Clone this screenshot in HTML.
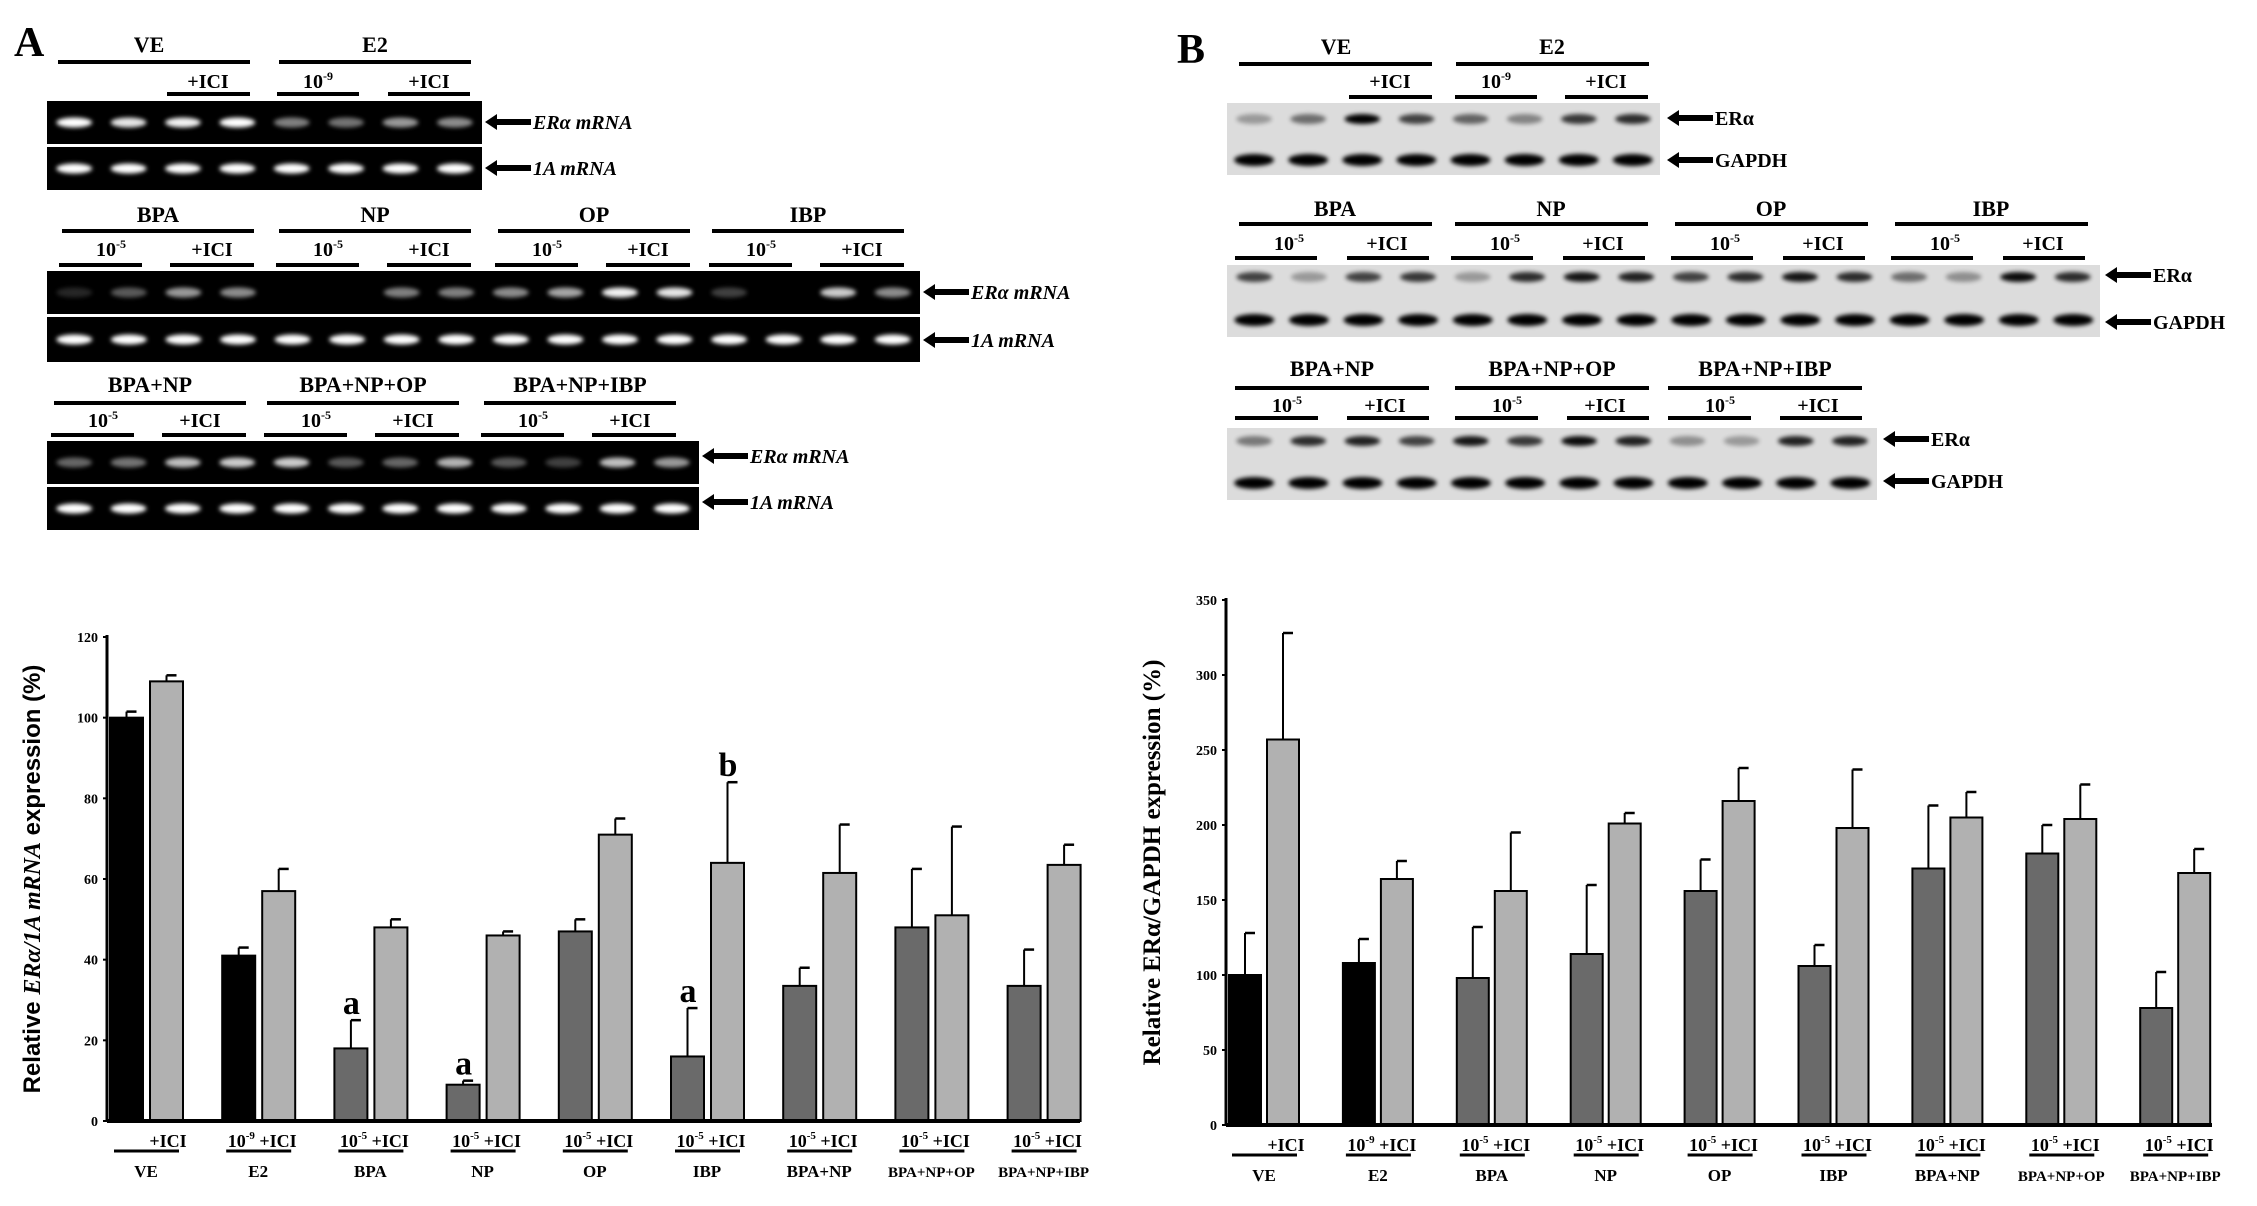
<!DOCTYPE html>
<html><head><meta charset="utf-8"><style>
html,body{margin:0;padding:0;background:#fff;}
svg{display:block;}
text{font-family:"Liberation Serif",serif;font-weight:bold;fill:#000;}
</style></head><body>
<svg id="fig" width="2257" height="1206" viewBox="0 0 2257 1206" xmlns="http://www.w3.org/2000/svg">
<defs><filter id="blur" x="-20%" y="-50%" width="140%" height="200%"><feGaussianBlur stdDeviation="2"/></filter></defs>
<g id="panels"></g>
<g id="chartA"></g>
<g id="chartB"></g>
</svg>
<script>
// ---------- chart data ----------
const groups = ["VE","E2","BPA","NP","OP","IBP","BPA+NP","BPA+NP+OP","BPA+NP+IBP"];
const doseLabels = ["","10","10","10","10","10","10","10","10"];
const doseExp = ["","-9","-5","-5","-5","-5","-5","-5","-5"];
const aDark = [100,41,18,9,47,16,33.5,48,33.5];
const aDarkErr = [1.5,2,7,1,3,12,4.5,14.5,9];
const aLight = [109,57,48,46,71,64,61.5,51,63.5];
const aLightErr = [1.5,5.5,2,1,4,20,12,22,5];
const aTicks = [0,20,40,60,80,100,120];
const bDark = [100,108,98,114,156,106,171,181,78];
const bDarkErr = [28,16,34,46,21,14,42,19,24];
const bLight = [257,164,156,201,216,198,205,204,168];
const bLightErr = [71,12,39,7,22,39,17,23,16];
const bTicks = [0,50,100,150,200,250,300,350];
const aLetters = [{g:2,s:0,t:"a"},{g:3,s:0,t:"a"},{g:5,s:0,t:"a"},{g:5,s:1,t:"b"}];

const NS="http://www.w3.org/2000/svg";
function el(tag,attrs,parent,txt){const e=document.createElementNS(NS,tag);for(const k in attrs)e.setAttribute(k,attrs[k]);if(txt!==undefined)e.textContent=txt;parent.appendChild(e);return e;}

function drawChart(g,o){
  const y=v=>o.y0-(v/o.max)*(o.y0-o.yTop);
  for(let i=0;i<groups.length;i++){
    const x0=o.x0+o.pitch*i;
    const dark=(i<2)?"#000":"#6a6a6a";
    const vals=[[o.dark[i],o.darkErr[i],dark,x0],[o.light[i],o.lightErr[i],"#b1b1b1",x0+o.off]];
    vals.forEach((v,s)=>{
      const top=y(v[0]);
      const et=y(v[0]+v[1]);
      const ln=el("line",{x1:v[3]+o.bw/2,x2:v[3]+o.bw/2,y1:top,y2:et,stroke:"#000","stroke-width":2},g);
      
      
      const cap=el("line",{x1:v[3]+o.bw/2,x2:v[3]+o.bw/2+10,y1:et,y2:et,stroke:"#000","stroke-width":2.5},g);
      
      
      const r=el("rect",{x:v[3],y:top,width:o.bw,height:o.y0-top,fill:v[2],stroke:"#000","stroke-width":2},g);
      
      
    });
    const cx=x0+o.bw+3;
    const t=el("text",{x:cx+4,y:o.y0+26,"font-size":18,"text-anchor":"middle"},g);
    
    
    if(doseLabels[i]){el("tspan",{},t,doseLabels[i]);el("tspan",{dy:-8,"font-size":11},t,doseExp[i]);el("tspan",{dy:8},t," +ICI");}
    else{el("tspan",{dx:18},t,"+ICI");}
    const ul=el("line",{x1:cx-32,x2:cx+33,y1:o.y0+30,y2:o.y0+30,stroke:"#000","stroke-width":3},g);
    
    
    const gn=el("text",{x:cx,y:o.y0+56,"font-size":groups[i].length>7?15:17,"text-anchor":"middle"},g,groups[i]);
    
    
  }
  const ya=el("line",{x1:o.ax,x2:o.ax,y1:o.yTop-2,y2:o.y0,stroke:"#000","stroke-width":3},g);
  
  
  const xa=el("line",{x1:o.ax,x2:o.xEnd,y1:o.y0,y2:o.y0,stroke:"#000","stroke-width":4},g);
  
  
  o.ticks.forEach(v=>{
    const tl=el("text",{x:o.ax-9,y:y(v)+5,"font-size":14,"text-anchor":"end","font-weight":"normal"},g,String(v));
    
    
    const tk=el("line",{x1:o.ax-4,x2:o.ax,y1:y(v),y2:y(v),stroke:"#000","stroke-width":2},g);
    
    
  });
  const yt=el("text",{x:0,y:0,"font-size":o.titleSize,"text-anchor":"middle",transform:`translate(${o.titleX},${(o.yTop+o.y0)/2}) rotate(-90)`,"font-family":"Liberation Sans"},g);
  
  
  o.title(yt);
  return y;
}

const gA=document.getElementById("chartA");
const yA=drawChart(gA,{x0:110,pitch:112.2,bw:33,off:40,y0:1121,yTop:637,max:120,ax:107,xEnd:1080,ticks:aTicks,dark:aDark,darkErr:aDarkErr,light:aLight,lightErr:aLightErr,titleX:40,titleSize:24,
 title:t=>{el("tspan",{"font-family":"Liberation Sans"},t,"Relative ");el("tspan",{"font-style":"italic","font-family":"Liberation Serif"},t,"ERα/1A mRNA");el("tspan",{"font-family":"Liberation Sans"},t," expression (%)");}});
aLetters.forEach(L=>{
  const val=L.s?aLight[L.g]+aLightErr[L.g]:aDark[L.g]+aDarkErr[L.g];
  const lt=el("text",{x:110+112.2*L.g+(L.s?40:0)+17,y:yA(val)-6,"font-size":34,"text-anchor":"middle"},gA,L.t);
  
  
});
drawChart(document.getElementById("chartB"),{x0:1229,pitch:113.9,bw:32,off:38,y0:1125,yTop:600,max:350,ax:1226,xEnd:2212,ticks:bTicks,dark:bDark,darkErr:bDarkErr,light:bLight,lightErr:bLightErr,titleX:1160,titleSize:25,
 title:t=>{t.textContent="Relative ERα/GAPDH expression (%)";}});

// ---------- gels & blots ----------
const P=document.getElementById("panels");
function label(x,y,txt,size,name,anchor){const t=el("text",{x:x,y:y,"font-size":size,"text-anchor":anchor||"middle"},P,txt);return t;}
function hline(x1,x2,y,w){const l=el("line",{x1:x1,x2:x2,y1:y,y2:y,stroke:"#000","stroke-width":w||4},P);}
function dose(x,y,exp){const t=el("text",{x:x,y:y,"font-size":20,"text-anchor":"middle"},P);el("tspan",{},t,"10");el("tspan",{dy:-8,"font-size":12},t,exp);}
function arrow(x,y,txt,italic,len){
  const a=el("path",{d:`M${x} ${y} l12 -8 v5 h${len||34} v6 h-${len||34} v5 z`,fill:"#000"},P);
  const t=el("text",{x:x+(len||34)+14,y:y+7,"font-size":20,"font-style":italic?"italic":"normal"},P,txt);
}
function gel(x,y,w,h,n,ints,bg,bandCol,name,cyOff){
  const r=el("rect",{x:x,y:y,width:w,height:h,fill:bg},P);
  const p=w/n;
  for(let i=0;i<n;i++){
    const b=el("ellipse",{cx:x+p*i+p/2,cy:y+(cyOff===undefined?h/2:cyOff),rx:p*0.33,ry:5,fill:bandCol,opacity:ints[i],filter:"url(#blur)"},P);
    
  }
}
function gapdh(x,y,n,p){for(let i=0;i<n;i++){const b=el("ellipse",{cx:x+p*i+p/2,cy:y,rx:20,ry:6,fill:"#000",filter:"url(#blur)"},P);}}
// Panel A
label(14,56,"A",42,"panel-a-label","start");
label(149,52,"VE",22,"group-label");label(375,52,"E2",22,"group-label");
hline(58,250,62);hline(279,471,62);
label(208,88,"+ICI",20,"dose-label");dose(318,88,"-9");label(429,88,"+ICI",20,"dose-label");
hline(167,250,94);hline(277,359,94);hline(388,470,94);
gel(47,101,435,43,8,[1,0.9,0.95,1,0.5,0.45,0.6,0.55],"#000","#fff","gel-era-1");
gel(47,147,435,43,8,[1,1,1,1,1,1,1,1],"#000","#fff","gel-1a-1");
arrow(485,122,"ERα mRNA",true);arrow(485,168,"1A mRNA",true);
[["BPA",62],["NP",279],["OP",498],["IBP",712]].forEach(g=>{label(g[1]+96,222,g[0],22,"group-label");hline(g[1],g[1]+192,231);
  dose(g[1]+49,256,"-5");label(g[1]+150,256,"+ICI",20,"dose-label");hline(g[1]-3,g[1]+80,265);hline(g[1]+108,g[1]+192,265);});
gel(47,271,873,43,16,[0.15,0.35,0.6,0.55,0,0,0.5,0.5,0.55,0.65,0.95,0.9,0.25,0,0.8,0.55],"#000","#fff","gel-era-2");
gel(47,317,873,45,16,new Array(16).fill(1),"#000","#fff","gel-1a-2");
arrow(923,292,"ERα mRNA",true);arrow(923,340,"1A mRNA",true);
[["BPA+NP",54],["BPA+NP+OP",267],["BPA+NP+IBP",484]].forEach(g=>{label(g[1]+96,392,g[0],22,"group-label");hline(g[1],g[1]+192,403);
  dose(g[1]+49,427,"-5");label(g[1]+146,427,"+ICI",20,"dose-label");hline(g[1]-3,g[1]+80,435);hline(g[1]+108,g[1]+192,435);});
gel(47,441,652,43,12,[0.4,0.45,0.75,0.8,0.8,0.35,0.4,0.7,0.35,0.25,0.75,0.6],"#000","#fff","gel-era-3");
gel(47,487,652,43,12,new Array(12).fill(1),"#000","#fff","gel-1a-3");
arrow(702,456,"ERα mRNA",true);arrow(702,502,"1A mRNA",true);
// Panel B
label(1177,63,"B",42,"panel-b-label","start");
label(1336,54,"VE",22,"group-label");label(1552,54,"E2",22,"group-label");
hline(1239,1432,64);hline(1456,1649,64);
label(1390,88,"+ICI",20,"dose-label");dose(1496,88,"-9");label(1606,88,"+ICI",20,"dose-label");
hline(1349,1432,97);hline(1455,1537,97);hline(1565,1648,97);
gel(1227,103,433,72,8,[0.3,0.5,1,0.7,0.55,0.4,0.75,0.8],"#dcdcdc","#000","blot-1",16);
gapdh(1227,160,8,54.1);
arrow(1667,118,"ERα",false);arrow(1667,160,"GAPDH",false);
[["BPA",1239],["NP",1455],["OP",1675],["IBP",1895]].forEach(g=>{label(g[1]+96,216,g[0],22,"group-label");hline(g[1],g[1]+193,224);
  dose(g[1]+50,250,"-5");label(g[1]+148,250,"+ICI",20,"dose-label");hline(g[1]-4,g[1]+78,258);hline(g[1]+108,g[1]+190,258);});
gel(1227,265,873,72,16,[0.7,0.3,0.7,0.75,0.3,0.8,0.9,0.85,0.7,0.8,0.9,0.8,0.5,0.35,0.95,0.8],"#dcdcdc","#000","blot-2",12);
gapdh(1227,320,16,54.6);
arrow(2105,275,"ERα",false);arrow(2105,322,"GAPDH",false);
[["BPA+NP",1235],["BPA+NP+OP",1455],["BPA+NP+IBP",1668]].forEach(g=>{label(g[1]+97,376,g[0],22,"group-label");hline(g[1],g[1]+194,388);
  dose(g[1]+52,412,"-5");label(g[1]+150,412,"+ICI",20,"dose-label");hline(g[1],g[1]+83,418);hline(g[1]+112,g[1]+194,418);});
gel(1227,428,650,72,12,[0.45,0.8,0.85,0.7,0.9,0.75,0.95,0.85,0.35,0.3,0.85,0.85],"#dcdcdc","#000","blot-3",13);
gapdh(1227,483,12,54.2);
arrow(1883,439,"ERα",false);arrow(1883,481,"GAPDH",false);
</script>
</body></html>
